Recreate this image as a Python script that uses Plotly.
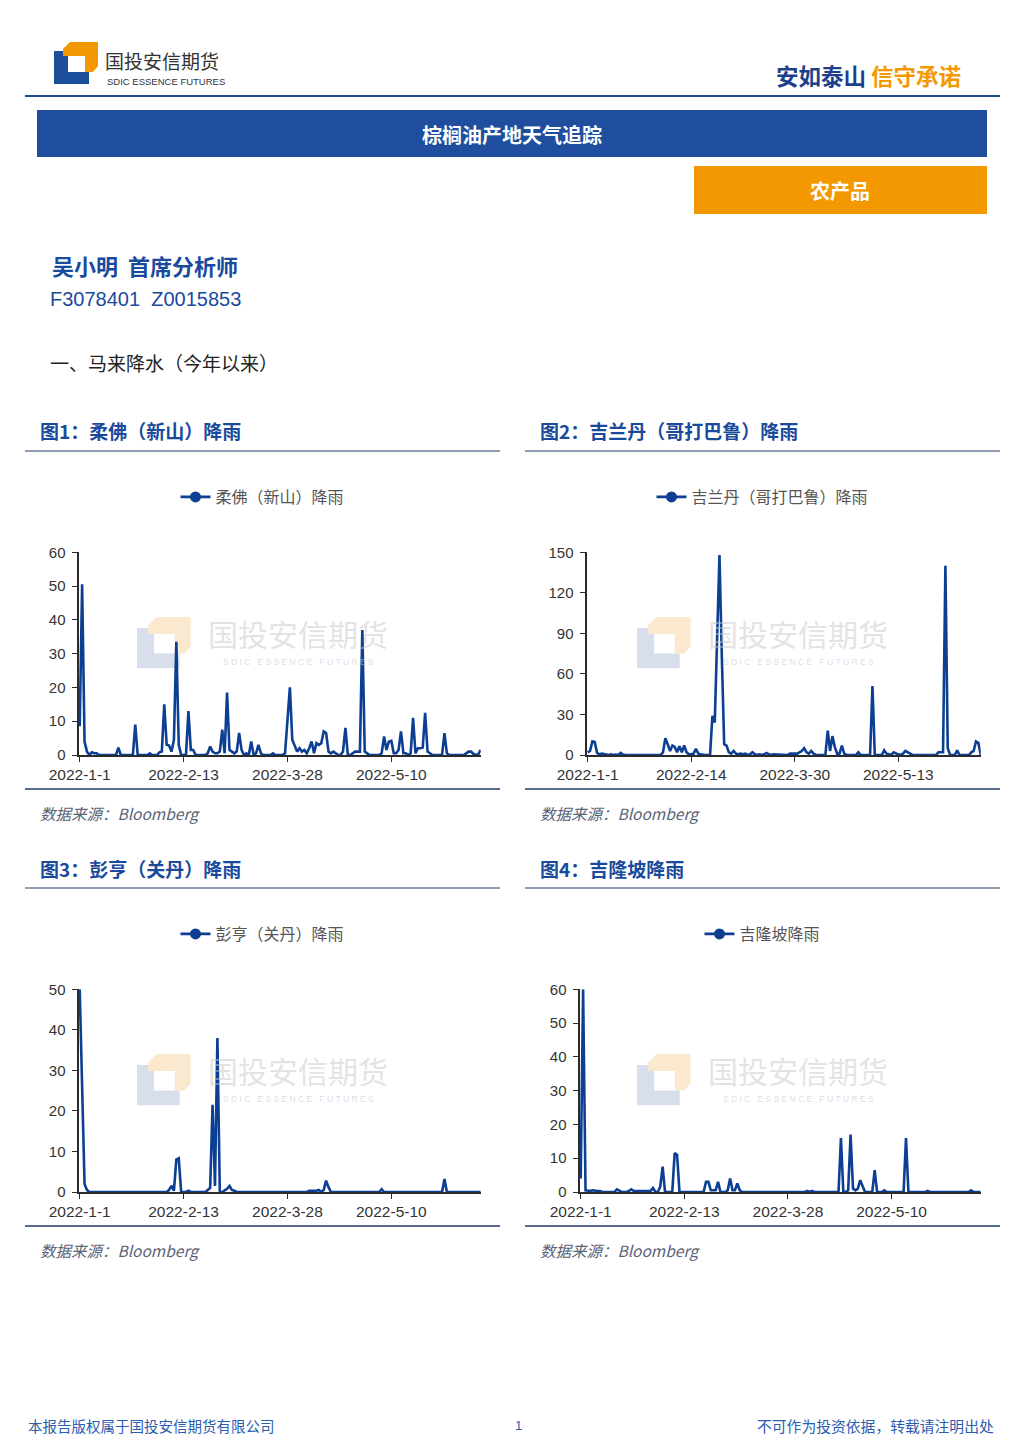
import plotly.graph_objects as go
import pandas as pd

W, H = 1025, 1450
def X(p): return p / W
def Y(p): return 1 - p / H

# ---------------- data ----------------
dates_a = pd.date_range("2022-01-01", "2022-06-16", freq="D").strftime("%Y-%m-%d").tolist()
dates_b = pd.date_range("2022-01-01", "2022-06-17", freq="D").strftime("%Y-%m-%d").tolist()

johor = [
    8.5, 50.5, 4, 1, 0, 0.8, 0.5, 0.5, 0, 0,
    0, 0, 0, 0, 0, 0, 2.2, 0, 0, 0,
    0, 0, 0, 9, 0, 0, 0, 0, 0, 0.5,
    0, 0, 0, 0.8, 1, 15, 3, 2.8, 1, 4.5,
    33.5, 3, 0, 0, 0, 13, 1.5, 1.5, 0, 0,
    0, 0, 0, 0.5, 2.5, 1, 0.5, 0.5, 1, 7.5,
    0.5, 18.5, 1.5, 1, 0.5, 1, 6.5, 1.5, 0, 0.5,
    0, 4, 0, 0.5, 3, 0.5, 0, 0, 0, 0,
    0.5, 0, 0, 0, 0, 0.5, 12, 20, 4.5, 3,
    1, 2, 1, 1.5, 0.5, 2, 4, 0.5, 3.5, 3,
    3.5, 7, 6.5, 1, 0.5, 1, 0.5, 0, 0, 1,
    8, 0, 0, 0.5, 1, 1, 1, 37, 1, 0.5,
    0, 0, 0, 0, 0, 0.5, 5.5, 1.5, 4, 4.2,
    0.5, 0.5, 1.5, 7, 0.5, 0.5, 0, 0.5, 11, 0.5,
    2, 2, 2.2, 12.5, 1, 0.5, 0, 0, 0, 0,
    0, 6.5, 0.5, 0, 0, 0, 0, 0, 0, 0,
    0.5, 1, 1, 0.3, 0, 0.2, 1.5,
]
kelantan = [
    2, 3, 10, 9.5, 1.5, 0.5, 1, 0.5, 0.5, 0,
    0.5, 0, 0.3, 0, 1.5, 0.3, 0, 0, 0, 0,
    0, 0, 0, 0, 0, 0, 0, 0, 0, 0,
    0, 0, 2, 12.5, 8, 3, 7, 6, 2, 6.5,
    2, 7, 2, 0.5, 0.5, 1, 4.5, 1, 0.5, 0,
    0, 0, 0, 29, 24, 86, 148, 73, 8, 7,
    2, 1, 3, 1, 0.5, 1, 0.5, 1, 0, 0.5,
    2, 0.5, 0, 0.5, 0, 0.5, 1.5, 0.5, 0, 0.5,
    0.5, 0.5, 0, 0.5, 0.5, 0, 1, 1, 1.5, 1,
    2, 3, 5, 2, 1, 3, 1, 0, 0, 0,
    0, 0, 18, 3, 14, 6, 1, 1, 7, 1,
    0, 0, 0, 0, 0, 2, 0, 0, 0, 0,
    0, 51, 0, 0, 0, 0, 3.5, 1, 0.5, 0,
    2, 1, 0.5, 0, 1, 3, 2, 0.5, 0, 0,
    0, 0, 0, 0, 0, 0, 0, 0, 0, 2,
    2, 2, 140, 5, 0, 0, 0, 3.5, 0, 0,
    0, 0, 0, 2, 3, 10, 9, 0,
]
pahang = [
    50, 22, 2, 0.5, 0, 0, 0, 0, 0, 0,
    0, 0, 0, 0, 0, 0, 0, 0, 0, 0,
    0, 0, 0, 0, 0, 0, 0, 0, 0, 0,
    0, 0, 0, 0, 0, 0, 0, 0.5, 1.5, 0.3,
    8, 8.3, 0, 0, 0, 0.3, 0, 0, 0, 0,
    0, 0, 0, 0.5, 1, 21.5, 1.5, 38, 0, 0,
    0.3, 0.8, 1.5, 0.5, 0.3, 0, 0, 0, 0, 0,
    0, 0, 0, 0, 0, 0, 0, 0, 0, 0,
    0, 0, 0, 0, 0, 0, 0, 0, 0, 0,
    0, 0, 0, 0, 0, 0.3, 0.3, 0.3, 0.3, 0.5,
    0, 0.5, 2.8, 1.2, 0, 0, 0, 0, 0, 0,
    0, 0, 0, 0, 0, 0, 0, 0, 0, 0,
    0, 0, 0, 0, 0, 0.7, 0, 0, 0, 0,
    0, 0, 0, 0, 0, 0, 0, 0, 0, 0,
    0, 0, 0, 0, 0, 0, 0, 0, 0, 0,
    0, 3.2, 0, 0, 0, 0, 0, 0, 0, 0,
    0, 0, 0, 0, 0, 0, 0,
]
kuala_lumpur = [
    4, 60, 0.5, 0.3, 0.3, 0.5, 0.3, 0.3, 0.3, 0,
    0, 0, 0, 0, 0, 0.8, 0.3, 0, 0, 0,
    0.3, 0.8, 0.3, 0.3, 0.3, 0.3, 0.3, 0.3, 0.3, 0.3,
    1.2, 0, 0, 1.5, 7.5, 0, 0, 0, 0, 11.5,
    11, 0, 0, 0, 0, 0, 0, 0, 0, 0,
    0, 0, 3, 3, 0.5, 0.5, 0.5, 3, 0, 0,
    0, 0.5, 4, 0.5, 0.5, 2.5, 0.5, 0, 0, 0,
    0, 0, 0, 0, 0, 0, 0, 0, 0, 0,
    0, 0, 0, 0, 0, 0, 0, 0, 0, 0,
    0, 0, 0, 0, 0.3, 0, 0.3, 0, 0, 0,
    0, 0, 0, 0, 0, 0, 0, 0, 16, 0,
    0, 0.5, 17, 1, 0.5, 1, 3.5, 1.5, 0, 0,
    0, 0, 6.5, 0, 0, 0, 0.5, 0, 0, 0,
    0, 0, 0, 0, 0, 16, 0, 0, 0, 0,
    0, 0, 0, 0, 0.3, 0, 0, 0, 0, 0,
    0, 0, 0, 0, 0, 0, 0, 0, 0, 0,
    0, 0, 0.5, 0, 0, 0, 0,
]

ticks_a = ["2022-01-01", "2022-02-13", "2022-03-28", "2022-05-10"]
ticklabels_a = ["2022-1-1", "2022-2-13", "2022-3-28", "2022-5-10"]
ticks_b = ["2022-01-01", "2022-02-14", "2022-03-30", "2022-05-13"]
ticklabels_b = ["2022-1-1", "2022-2-14", "2022-3-30", "2022-5-13"]

series_names = ["柔佛（新山）降雨", "吉兰丹（哥打巴鲁）降雨", "彭亨（关丹）降雨", "吉隆坡降雨"]
chart_titles = ["图1：柔佛（新山）降雨", "图2：吉兰丹（哥打巴鲁）降雨", "图3：彭亨（关丹）降雨", "图4：吉隆坡降雨"]
y_max = [60, 150, 50, 60]
y_step = [10, 30, 10, 10]

# ---------------- styles ----------------
NAVY = "#1a4a9c"
BAR_BLUE = "#1e4e9d"
ORANGE = "#f39800"
LINE = "#0c3f93"
RULE = "#1f3a6a"
CJK = "Noto Sans CJK SC, sans-serif"
LAT = "Liberation Sans, Arial, sans-serif"

panels = [
    dict(data=johor, dates=dates_a, ticks=ticks_a, labels=ticklabels_a, left=25, top=0, px=(78.5, 480.7)),
    dict(data=kelantan, dates=dates_b, ticks=ticks_b, labels=ticklabels_b, left=525, top=0, px=(586.5, 980.7)),
    dict(data=pahang, dates=dates_a, ticks=ticks_a, labels=ticklabels_a, left=25, top=437, px=(78.5, 480.7)),
    dict(data=kuala_lumpur, dates=dates_a, ticks=ticks_a, labels=ticklabels_a, left=525, top=437, px=(579.5, 980.7)),
]

fig = go.Figure()
shapes, annotations = [], []
layout = dict(width=W, height=H, autosize=False,
              margin=dict(l=0, r=0, t=0, b=0, pad=0, autoexpand=False),
              paper_bgcolor="white", plot_bgcolor="white", showlegend=True)


def logo_shapes(ox, oy, s, blue, orange, layer="above"):
    blue_pts = [(0, 9), (14, 9), (14, 30), (35, 30), (35, 42), (0, 42)]
    orange_pts = [(16, 0), (44, 0), (44, 24), (39, 30), (31, 30), (31, 14), (9, 14), (9, 7)]
    out = []
    for pts, col in ((blue_pts, blue), (orange_pts, orange)):
        path = "M " + " L ".join(f"{X(ox + s * a):.5f},{Y(oy + s * b):.5f}" for a, b in pts) + " Z"
        out.append(dict(type="path", path=path, xref="paper", yref="paper", fillcolor=col,
                        line=dict(width=0), layer=layer))
    return out


def rect(x0, y0, x1, y1, color, layer="above"):
    return dict(type="rect", xref="paper", yref="paper", x0=X(x0), x1=X(x1), y0=Y(y1), y1=Y(y0),
                fillcolor=color, line=dict(width=0), layer=layer)


def hline(x0, x1, y, color, width):
    return dict(type="line", xref="paper", yref="paper", x0=X(x0), x1=X(x1), y0=Y(y), y1=Y(y),
                line=dict(color=color, width=width))


def text(x, y, s, size, color, family=CJK, xanchor="left"):
    return dict(x=X(x), y=Y(y), xref="paper", yref="paper", text=s, showarrow=False,
                xanchor=xanchor, yanchor="middle", font=dict(size=size, color=color, family=family))


# ---------------- header ----------------
shapes += logo_shapes(54, 42, 1.0, "#1b4f9c", ORANGE)
annotations.append(text(103, 61, "国投安信期货", 19, "#333333"))
annotations.append(text(105, 81.5, "SDIC ESSENCE FUTURES", 9.5, "#333333", family=LAT))
annotations.append(text(963, 75, "<b>安如泰山</b> <b><span style='color:#f39800'>信守承诺</span></b>",
                        22.5, "#1d3f8c", xanchor="right"))
shapes.append(hline(25, 1000, 96, "#1f4a8c", 2))
shapes.append(rect(37, 110, 987, 157, BAR_BLUE))
annotations.append(text(512, 134, "<b>棕榈油产地天气追踪</b>", 20, "white", xanchor="center"))
shapes.append(rect(694, 166, 987, 214, ORANGE))
annotations.append(text(840, 190, "<b>农产品</b>", 20, "white", xanchor="center"))

annotations.append(text(50, 265, "<b>吴小明\u00a0\u00a0首席分析师</b>", 22, NAVY))
annotations.append(text(48, 299, "F3078401\u00a0\u00a0Z0015853", 20, NAVY, family=LAT))
annotations.append(text(48, 362, "一、马来降水（今年以来）", 19, "#222222"))

# ---------------- footer ----------------
annotations.append(text(26, 1425, "本报告版权属于国投安信期货有限公司", 14.5, "#2a5db0"))
annotations.append(text(518, 1425, "1", 13, "#2a5db0", family=LAT, xanchor="center"))
annotations.append(text(996, 1425, "不可作为投资依据，转载请注明出处", 14.8, "#2a5db0", xanchor="right"))

# ---------------- charts ----------------
for i, p in enumerate(panels):
    n = i + 1
    sfx = "" if n == 1 else str(n)
    left, top = p["left"], p["top"]
    x0p, x1p = p["px"]
    plot_top, plot_bot = 552.3 + top, 755 + top

    annotations.append(text(left + 13, 431 + top, f"<b>{chart_titles[i]}</b>", 19, NAVY))
    shapes.append(hline(left, left + 475, 451 + top, RULE, 1))
    shapes.append(hline(left, left + 475, 789 + top, RULE, 1.5))
    annotations.append(text(left + 13, 813 + top, "<i>数据来源：Bloomberg</i>", 15.5, "#5a6478"))

    # watermark
    shapes += logo_shapes(left + 112, 617 + top, 1.22, "#d8deeb", "#fbe9cf", layer="below")
    annotations.append(dict(x=X(left + 273), y=Y(633 + top), xref="paper", yref="paper",
                            text="国投安信期货", showarrow=False, xanchor="center", yanchor="middle",
                            font=dict(size=30, color="rgba(200,200,200,0.5)", family=CJK)))
    annotations.append(dict(x=X(left + 273), y=Y(662 + top), xref="paper", yref="paper",
                            text="\u00a0".join("SDIC ESSENCE FUTURES").replace("\u00a0 \u00a0", "\u00a0\u00a0\u00a0"),
                            showarrow=False, xanchor="center", yanchor="middle",
                            font=dict(size=8.5, color="rgba(200,200,200,0.6)", family=LAT)))

    dates = p["dates"]
    start = (pd.Timestamp(dates[0]) - pd.Timedelta(hours=12)).strftime("%Y-%m-%d %H:%M")
    layout["xaxis" + sfx] = dict(
        domain=[X(x0p), X(x1p)], anchor="y" + sfx, type="date",
        range=[start, dates[-1]], tickmode="array", tickvals=p["ticks"], ticktext=p["labels"],
        showline=True, linecolor="#2b2b2b", linewidth=1.5, ticks="outside", ticklen=5,
        tickcolor="#2b2b2b", tickwidth=1, showgrid=False, zeroline=False,
        tickfont=dict(size=15.5, color="#333333", family=LAT), ticklabelstandoff=0,
        layer="below traces", fixedrange=True, automargin=False,
    )
    layout["yaxis" + sfx] = dict(
        domain=[Y(plot_bot), Y(plot_top)], anchor="x" + sfx, range=[0, y_max[i]],
        tickmode="linear", tick0=0, dtick=y_step[i],
        showline=True, linecolor="#2b2b2b", linewidth=2, ticks="outside", ticklen=5,
        tickcolor="#2b2b2b", tickwidth=1, showgrid=False, zeroline=False,
        tickfont=dict(size=15, color="#333333", family=LAT), ticklabelstandoff=3,
        layer="below traces", fixedrange=True, automargin=False,
    )

    legend_key = "legend" + sfx
    layout[legend_key] = dict(x=X(left + 237.5), y=Y(497 + top), xanchor="center", yanchor="middle",
                              orientation="h", bgcolor="rgba(0,0,0,0)",
                              font=dict(size=16, color="#555555", family=CJK))

    fig.add_trace(go.Scatter(x=dates, y=p["data"], mode="lines", line=dict(color=LINE, width=2.6),
                             xaxis="x" + sfx, yaxis="y" + sfx, showlegend=False, hoverinfo="x+y"))
    fig.add_trace(go.Scatter(x=[None], y=[None], mode="lines+markers", name=series_names[i],
                             line=dict(color=LINE, width=2.6), marker=dict(size=11, color=LINE),
                             xaxis="x" + sfx, yaxis="y" + sfx, legend=legend_key, showlegend=True))

layout["shapes"] = shapes
layout["annotations"] = annotations
fig.update_layout(**layout)

fig.write_html("out.html", config={"displayModeBar": False, "responsive": False},
               post_script="document.body.style.margin='0';")
